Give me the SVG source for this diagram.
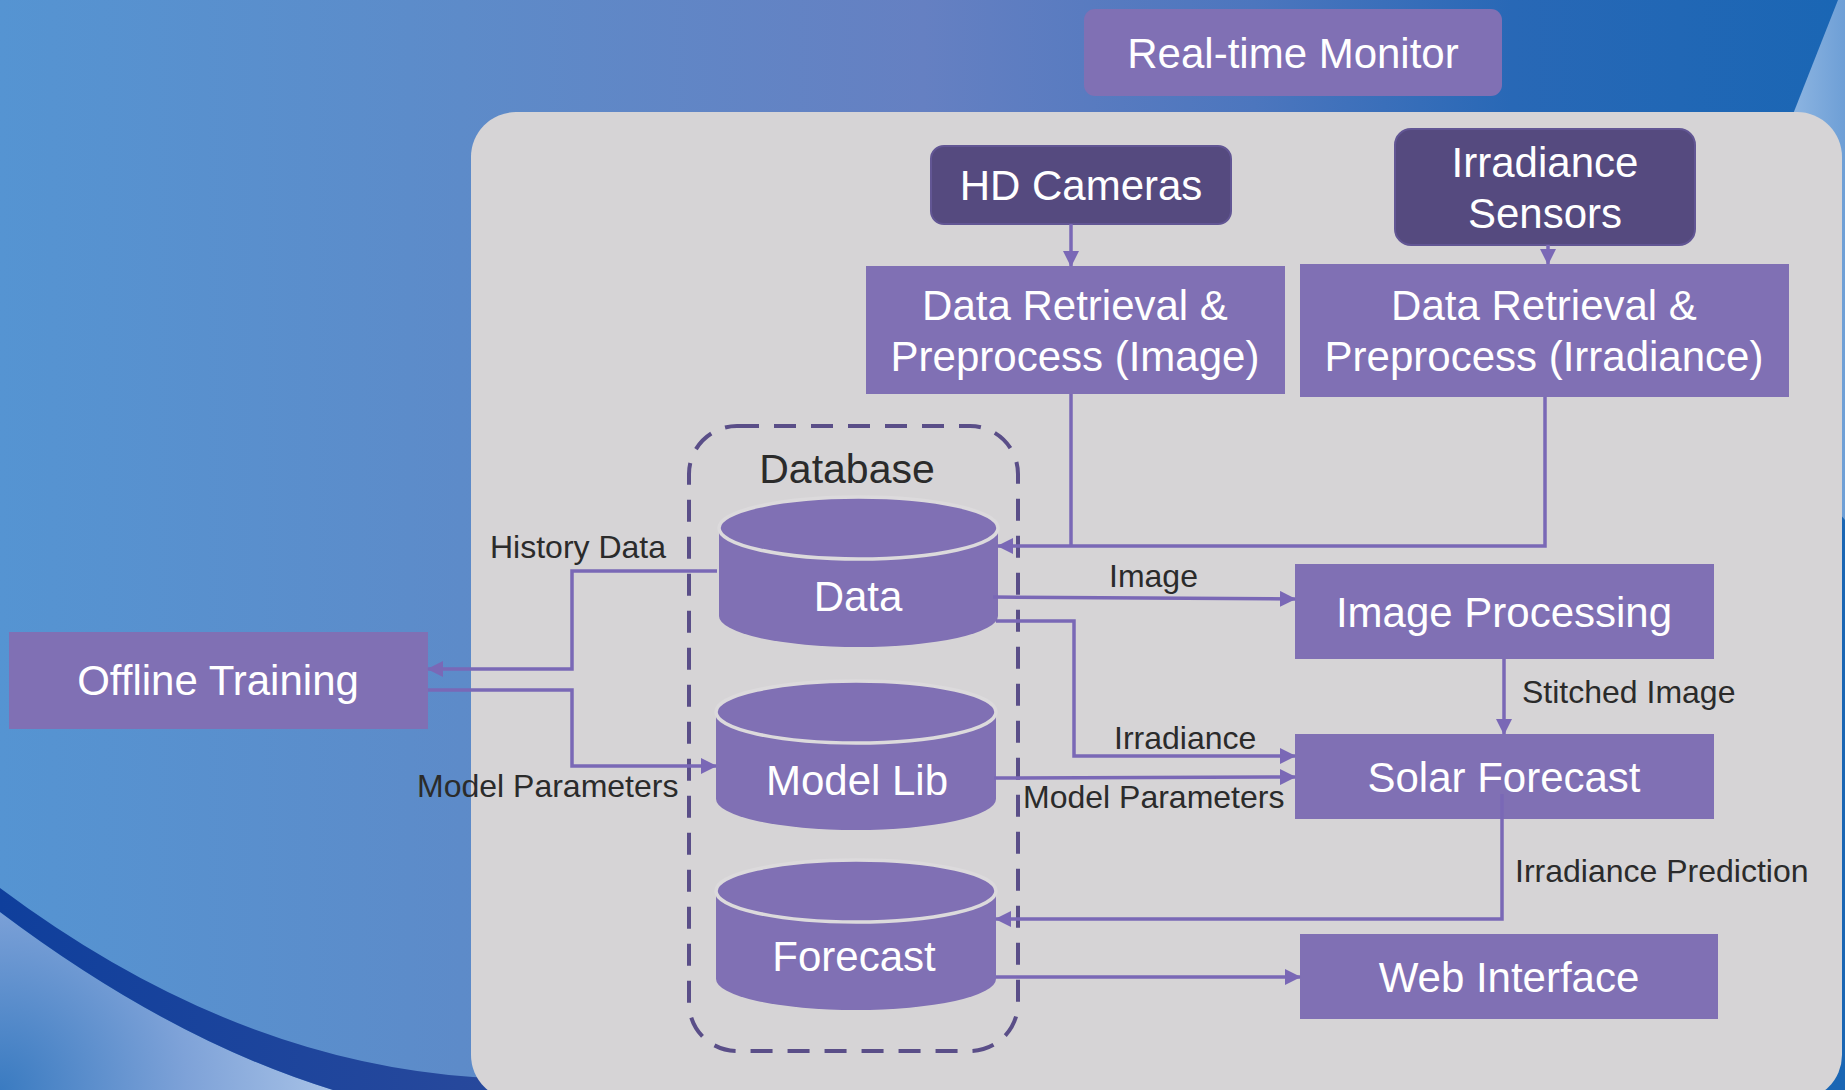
<svg xmlns="http://www.w3.org/2000/svg" width="1845" height="1090" viewBox="0 0 1845 1090">
  <defs>
    <linearGradient id="bg" x1="0" y1="0" x2="1845" y2="0" gradientUnits="userSpaceOnUse">
      <stop offset="0" stop-color="#5594d2"/>
      <stop offset="0.25" stop-color="#5d8bc9"/>
      <stop offset="0.5" stop-color="#6580c2"/>
      <stop offset="0.68" stop-color="#4c76be"/>
      <stop offset="0.82" stop-color="#2868b6"/>
      <stop offset="1" stop-color="#1a66b4"/>
    </linearGradient>
    <radialGradient id="swooshLight" cx="0" cy="1090" r="340" gradientUnits="userSpaceOnUse">
      <stop offset="0" stop-color="#3a7bc1"/>
      <stop offset="0.55" stop-color="#7ea2d8"/>
      <stop offset="1" stop-color="#a9c3e7"/>
    </radialGradient>
    <linearGradient id="swooshBand" x1="0" y1="0" x2="560" y2="0" gradientUnits="userSpaceOnUse">
      <stop offset="0" stop-color="#0f3f9c"/>
      <stop offset="1" stop-color="#2b4a9c"/>
    </linearGradient>
    <linearGradient id="wedge" x1="1760" y1="0" x2="1845" y2="0" gradientUnits="userSpaceOnUse">
      <stop offset="0" stop-color="#a0c2e8"/>
      <stop offset="1" stop-color="#6e9fd6"/>
    </linearGradient>
    <marker id="arrow" markerUnits="userSpaceOnUse" markerWidth="16" markerHeight="16" refX="15" refY="8" orient="auto">
      <path d="M0,0 L16,8 L0,16 Z" fill="#7a68b6"/>
    </marker>
    <style>
      .box { fill: #8070b4; }
      .dark { fill: #554a7f; stroke: #625694; stroke-width: 2; }
      .node-text { font-family: "Liberation Sans", Arial, sans-serif; font-size: 42px; fill: #ffffff; text-anchor: middle; }
      .label { font-family: "Liberation Sans", Arial, sans-serif; font-size: 32px; fill: #2b2b2b; }
      .conn { fill: none; stroke: #7a68b6; stroke-width: 3.5; }
      .cyl { fill: #8070b4; }
      .cyl-top { fill: #8070b4; stroke: #dcdadc; stroke-width: 3.5; }
    </style>
  </defs>

  <!-- backdrop -->
  <rect x="0" y="0" width="1845" height="1090" fill="url(#bg)"/>
  <polygon points="1838,0 1845,0 1845,520 1700,350" fill="url(#wedge)"/>
  <path d="M0,912 Q170,1040 333,1090 L0,1090 Z" fill="url(#swooshLight)"/>
  <path d="M0,888 Q230,1060 473,1077 L560,1082 L560,1090 L333,1090 Q170,1040 0,912 Z" fill="url(#swooshBand)"/>

  <!-- main panel -->
  <rect x="471" y="112" width="1371" height="988" rx="45" ry="45" fill="#d6d4d6"/>

  <!-- database container -->
  <g id="database">
    <rect x="689" y="426" width="329" height="625" rx="48" ry="48" fill="none" stroke="#5a4e88" stroke-width="4" stroke-dasharray="22 15"/>
    <text x="847" y="483" font-family="Liberation Sans, Arial, sans-serif" font-size="41" fill="#2b2b2b" text-anchor="middle">Database</text>
  </g>

  <!-- nodes -->
  <g id="realtime-monitor">
    <rect class="box" x="1084" y="9" width="418" height="87" rx="11"/>
    <text class="node-text" x="1293" y="68">Real-time Monitor</text>
  </g>
  <g id="hd-cameras">
    <rect class="dark" x="931" y="146" width="300" height="78" rx="13"/>
    <text class="node-text" x="1081" y="200">HD Cameras</text>
  </g>
  <g id="irradiance-sensors">
    <rect class="dark" x="1395" y="129" width="300" height="116" rx="16"/>
    <text class="node-text" x="1545" y="177">Irradiance</text>
    <text class="node-text" x="1545" y="228">Sensors</text>
  </g>
  <g id="drp-image">
    <rect class="box" x="866" y="266" width="419" height="128"/>
    <text class="node-text" x="1075" y="320">Data Retrieval &amp;</text>
    <text class="node-text" x="1075" y="371">Preprocess (Image)</text>
  </g>
  <g id="drp-irradiance">
    <rect class="box" x="1300" y="264" width="489" height="133"/>
    <text class="node-text" x="1544" y="320">Data Retrieval &amp;</text>
    <text class="node-text" x="1544" y="371">Preprocess (Irradiance)</text>
  </g>
  <g id="offline-training">
    <rect class="box" x="9" y="632" width="419" height="97"/>
    <text class="node-text" x="218" y="695">Offline Training</text>
  </g>
  <g id="image-processing">
    <rect class="box" x="1295" y="564" width="419" height="95"/>
    <text class="node-text" x="1504" y="627">Image Processing</text>
  </g>
  <g id="solar-forecast">
    <rect class="box" x="1295" y="734" width="419" height="85"/>
    <text class="node-text" x="1504" y="792">Solar Forecast</text>
  </g>
  <g id="web-interface">
    <rect class="box" x="1300" y="934" width="418" height="85"/>
    <text class="node-text" x="1509" y="992">Web Interface</text>
  </g>

  <!-- database cylinders -->
  <g id="cyl-data">
    <path class="cyl" d="M719,528 L719,616 A139.5,31 0 0 0 998,616 L998,528 Z"/>
    <ellipse class="cyl-top" cx="858.5" cy="528" rx="139.5" ry="31"/>
    <text class="node-text" x="858" y="611">Data</text>
  </g>
  <g id="cyl-modellib">
    <path class="cyl" d="M716,712 L716,799 A140,31 0 0 0 996,799 L996,712 Z"/>
    <ellipse class="cyl-top" cx="856" cy="712" rx="140" ry="31"/>
    <text class="node-text" x="857" y="795">Model Lib</text>
  </g>
  <g id="cyl-forecast">
    <path class="cyl" d="M716,891 L716,979 A140,31 0 0 0 996,979 L996,891 Z"/>
    <ellipse class="cyl-top" cx="856" cy="891" rx="140" ry="31"/>
    <text class="node-text" x="854" y="971">Forecast</text>
  </g>

  <!-- connectors -->
  <g id="connectors">
    <path class="conn" d="M1071,224 L1071,266" marker-end="url(#arrow)"/>
    <path class="conn" d="M1548,245 L1548,264" marker-end="url(#arrow)"/>
    <path class="conn" d="M1071,394 L1071,546"/>
    <path class="conn" d="M1545,397 L1545,546 L998,546" marker-end="url(#arrow)"/>
    <path class="conn" d="M717,571 L572,571 L572,669 L428,669" marker-end="url(#arrow)"/>
    <path class="conn" d="M428,690 L572,690 L572,766 L716,766" marker-end="url(#arrow)"/>
    <path class="conn" d="M993,597 L1295,599" marker-end="url(#arrow)"/>
    <path class="conn" d="M996,621 L1074,621 L1074,756 L1295,756" marker-end="url(#arrow)"/>
    <path class="conn" d="M994,778 L1295,777" marker-end="url(#arrow)"/>
    <path class="conn" d="M1504,659 L1504,734" marker-end="url(#arrow)"/>
    <path class="conn" d="M1502,794 L1502,919 L996,919" marker-end="url(#arrow)"/>
    <path class="conn" d="M996,977 L1300,977" marker-end="url(#arrow)"/>
  </g>

  <!-- connector labels -->
  <g id="labels">
    <text class="label" x="490" y="558">History Data</text>
    <text class="label" x="417" y="797">Model Parameters</text>
    <text class="label" x="1109" y="587">Image</text>
    <text class="label" x="1114" y="749">Irradiance</text>
    <text class="label" x="1023" y="808">Model Parameters</text>
    <text class="label" x="1522" y="703">Stitched Image</text>
    <text class="label" x="1515" y="882">Irradiance Prediction</text>
  </g>
</svg>
